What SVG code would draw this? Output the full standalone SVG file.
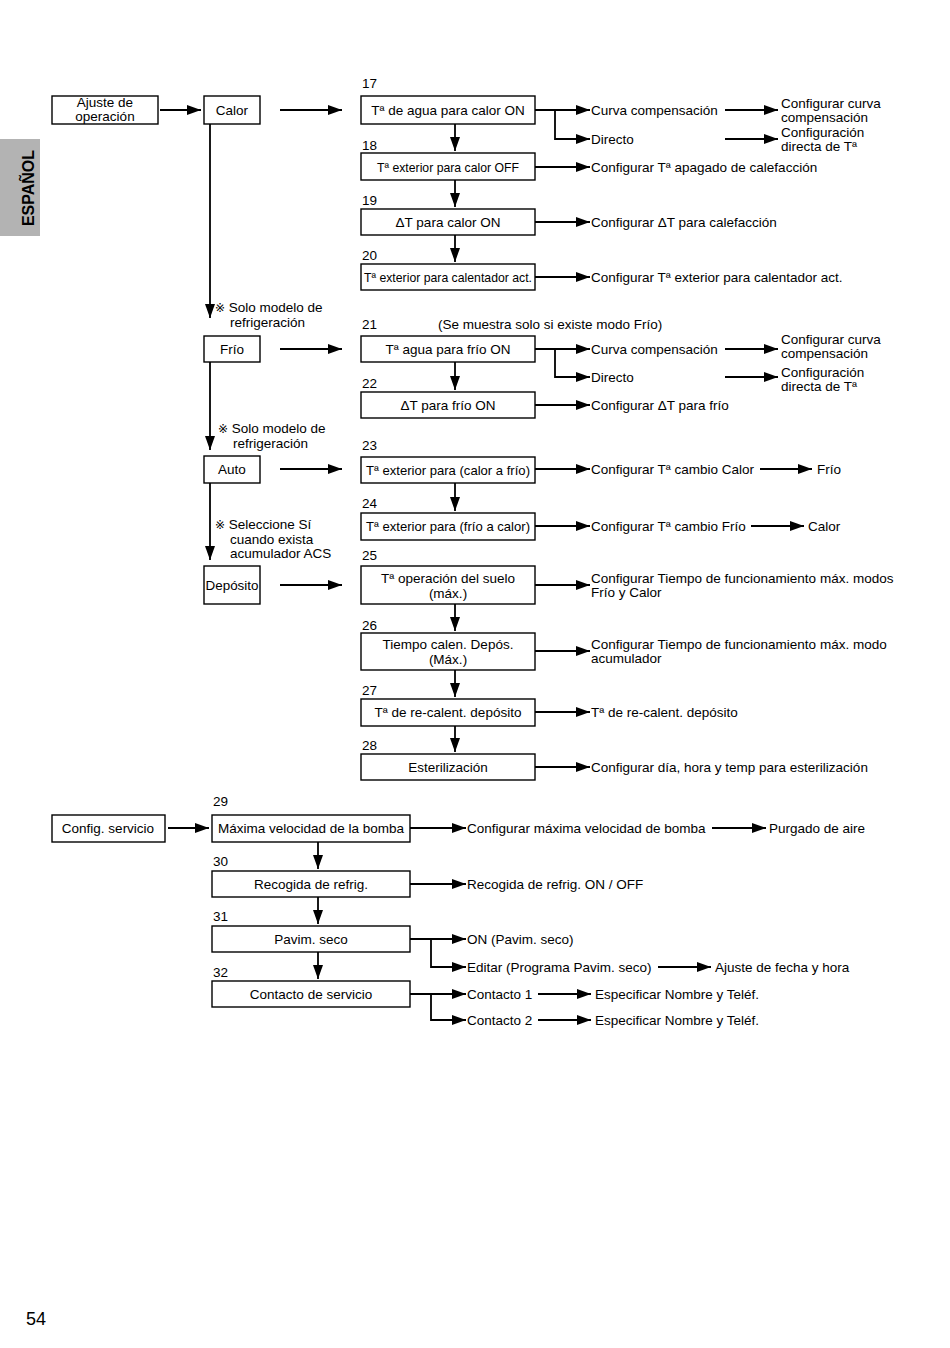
<svg xmlns="http://www.w3.org/2000/svg" width="950" height="1348" viewBox="0 0 950 1348">
<style>
text{font-family:"Liberation Sans",Arial,sans-serif;font-size:13.5px;fill:#000}
.c{text-anchor:middle}
.box{fill:#fff;stroke:#000;stroke-width:1.4}
.ln{fill:none;stroke:#000;stroke-width:1.8}
.sym{font-family:"DejaVu Sans",sans-serif;font-size:12px}
</style>
<defs>
<marker id="ah" markerUnits="userSpaceOnUse" markerWidth="16" markerHeight="12" refX="14" refY="5" orient="auto">
<path d="M0,0 L14,5 L0,10 z" fill="#000"/>
</marker>
</defs>
<rect width="950" height="1348" fill="#fff"/>
<g id="tab">
<rect x="0" y="139" width="40" height="97" fill="#b3b3b3"/>
<text x="34" y="188" class="c" transform="rotate(-90 34 188)" style="font-size:16px;font-weight:bold">ESPAÑOL</text>
</g>
<g id="connectors">
<line class="ln" x1="160" y1="110" x2="201" y2="110" marker-end="url(#ah)"/>
<line class="ln" x1="280" y1="110" x2="342" y2="110" marker-end="url(#ah)"/>
<line class="ln" x1="210" y1="124" x2="210" y2="318" marker-end="url(#ah)"/>
<line class="ln" x1="280" y1="349" x2="342" y2="349" marker-end="url(#ah)"/>
<line class="ln" x1="210" y1="362" x2="210" y2="450" marker-end="url(#ah)"/>
<line class="ln" x1="280" y1="469" x2="342" y2="469" marker-end="url(#ah)"/>
<line class="ln" x1="210" y1="483" x2="210" y2="560" marker-end="url(#ah)"/>
<line class="ln" x1="280" y1="585" x2="342" y2="585" marker-end="url(#ah)"/>
<line class="ln" x1="455" y1="124" x2="455" y2="151" marker-end="url(#ah)"/>
<line class="ln" x1="455" y1="180" x2="455" y2="207" marker-end="url(#ah)"/>
<line class="ln" x1="455" y1="235" x2="455" y2="262" marker-end="url(#ah)"/>
<line class="ln" x1="455" y1="362" x2="455" y2="390" marker-end="url(#ah)"/>
<line class="ln" x1="455" y1="483" x2="455" y2="511" marker-end="url(#ah)"/>
<line class="ln" x1="455" y1="604" x2="455" y2="631" marker-end="url(#ah)"/>
<line class="ln" x1="455" y1="670" x2="455" y2="697" marker-end="url(#ah)"/>
<line class="ln" x1="455" y1="726" x2="455" y2="752" marker-end="url(#ah)"/>
<line class="ln" x1="535" y1="110" x2="590" y2="110" marker-end="url(#ah)"/>
<polyline class="ln" points="555,110 555,139 590,139" marker-end="url(#ah)"/>
<line class="ln" x1="725" y1="110" x2="778" y2="110" marker-end="url(#ah)"/>
<line class="ln" x1="725" y1="139" x2="778" y2="139" marker-end="url(#ah)"/>
<line class="ln" x1="535" y1="167" x2="590" y2="167" marker-end="url(#ah)"/>
<line class="ln" x1="535" y1="222" x2="590" y2="222" marker-end="url(#ah)"/>
<line class="ln" x1="535" y1="277" x2="590" y2="277" marker-end="url(#ah)"/>
<line class="ln" x1="535" y1="349" x2="590" y2="349" marker-end="url(#ah)"/>
<polyline class="ln" points="555,349 555,377 590,377" marker-end="url(#ah)"/>
<line class="ln" x1="725" y1="349" x2="778" y2="349" marker-end="url(#ah)"/>
<line class="ln" x1="725" y1="377" x2="778" y2="377" marker-end="url(#ah)"/>
<line class="ln" x1="535" y1="405" x2="590" y2="405" marker-end="url(#ah)"/>
<line class="ln" x1="535" y1="469" x2="590" y2="469" marker-end="url(#ah)"/>
<line class="ln" x1="760" y1="469" x2="812" y2="469" marker-end="url(#ah)"/>
<line class="ln" x1="535" y1="526" x2="590" y2="526" marker-end="url(#ah)"/>
<line class="ln" x1="751" y1="526" x2="804" y2="526" marker-end="url(#ah)"/>
<line class="ln" x1="535" y1="585" x2="590" y2="585" marker-end="url(#ah)"/>
<line class="ln" x1="535" y1="651" x2="590" y2="651" marker-end="url(#ah)"/>
<line class="ln" x1="535" y1="712" x2="590" y2="712" marker-end="url(#ah)"/>
<line class="ln" x1="535" y1="767" x2="590" y2="767" marker-end="url(#ah)"/>
<line class="ln" x1="168" y1="828" x2="209" y2="828" marker-end="url(#ah)"/>
<line class="ln" x1="318" y1="842" x2="318" y2="869" marker-end="url(#ah)"/>
<line class="ln" x1="318" y1="897" x2="318" y2="924" marker-end="url(#ah)"/>
<line class="ln" x1="318" y1="952" x2="318" y2="979" marker-end="url(#ah)"/>
<line class="ln" x1="410" y1="828" x2="466" y2="828" marker-end="url(#ah)"/>
<line class="ln" x1="712" y1="828" x2="766" y2="828" marker-end="url(#ah)"/>
<line class="ln" x1="410" y1="884" x2="466" y2="884" marker-end="url(#ah)"/>
<line class="ln" x1="410" y1="939" x2="466" y2="939" marker-end="url(#ah)"/>
<polyline class="ln" points="431,939 431,967 466,967" marker-end="url(#ah)"/>
<line class="ln" x1="658" y1="967" x2="711" y2="967" marker-end="url(#ah)"/>
<line class="ln" x1="410" y1="994" x2="466" y2="994" marker-end="url(#ah)"/>
<polyline class="ln" points="431,994 431,1020 466,1020" marker-end="url(#ah)"/>
<line class="ln" x1="538" y1="994" x2="591" y2="994" marker-end="url(#ah)"/>
<line class="ln" x1="538" y1="1020" x2="591" y2="1020" marker-end="url(#ah)"/>
</g>
<g id="ajuste"><rect class="box" x="52" y="96" width="106" height="28"/><text x="105" y="107" class="c">Ajuste de</text><text x="105" y="121" class="c">operación</text></g>
<g id="calor"><rect class="box" x="204" y="96" width="56" height="28"/><text x="232" y="115" class="c">Calor</text></g>
<g id="frio"><rect class="box" x="204" y="336" width="56" height="26"/><text x="232" y="354" class="c">Frío</text></g>
<g id="auto"><rect class="box" x="204" y="456" width="56" height="27"/><text x="232" y="474" class="c">Auto</text></g>
<g id="deposito"><rect class="box" x="204" y="566" width="56" height="38"/><text x="232" y="590" class="c" textLength="53" lengthAdjust="spacingAndGlyphs">Depósito</text></g>
<g id="notes">
<text x="215" y="312"><tspan class="sym">※</tspan> Solo modelo de</text>
<text x="230" y="327">refrigeración</text>
<text x="218" y="433"><tspan class="sym">※</tspan> Solo modelo de</text>
<text x="233" y="448">refrigeración</text>
<text x="215" y="529"><tspan class="sym">※</tspan> Seleccione Sí</text>
<text x="230" y="544">cuando exista</text>
<text x="230" y="558">acumulador ACS</text>
</g>
<g id="n17"><text x="362" y="88">17</text><rect class="box" x="361" y="96" width="174" height="28"/><text x="448" y="115" class="c">Tª de agua para calor ON</text></g>
<g id="n18"><text x="362" y="150">18</text><rect class="box" x="361" y="153" width="174" height="27"/><text x="448" y="172" class="c" textLength="142" lengthAdjust="spacingAndGlyphs">Tª exterior para calor OFF</text></g>
<g id="n19"><text x="362" y="205">19</text><rect class="box" x="361" y="209" width="174" height="26"/><text x="448" y="227" class="c">ΔT para calor ON</text></g>
<g id="n20"><text x="362" y="260">20</text><rect class="box" x="361" y="264" width="174" height="26"/><text x="448" y="282" class="c" textLength="168" lengthAdjust="spacingAndGlyphs">Tª exterior para calentador act.</text></g>
<g id="n21"><text x="362" y="329">21</text><text x="438" y="329">(Se muestra solo si existe modo Frío)</text><rect class="box" x="361" y="336" width="174" height="26"/><text x="448" y="354" class="c">Tª agua para frío ON</text></g>
<g id="n22"><text x="362" y="388">22</text><rect class="box" x="361" y="392" width="174" height="26"/><text x="448" y="410" class="c">ΔT para frío ON</text></g>
<g id="n23"><text x="362" y="450">23</text><rect class="box" x="361" y="457" width="174" height="26"/><text x="448" y="475" class="c" textLength="164" lengthAdjust="spacingAndGlyphs">Tª exterior para (calor a frío)</text></g>
<g id="n24"><text x="362" y="508">24</text><rect class="box" x="361" y="513" width="174" height="27"/><text x="448" y="531" class="c" textLength="164" lengthAdjust="spacingAndGlyphs">Tª exterior para (frío a calor)</text></g>
<g id="n25"><text x="362" y="560">25</text><rect class="box" x="361" y="566" width="174" height="38"/><text x="448" y="583" class="c">Tª operación del suelo</text><text x="448" y="598" class="c">(máx.)</text></g>
<g id="n26"><text x="362" y="630">26</text><rect class="box" x="361" y="633" width="174" height="37"/><text x="448" y="649" class="c">Tiempo calen. Depós.</text><text x="448" y="664" class="c">(Máx.)</text></g>
<g id="n27"><text x="362" y="695">27</text><rect class="box" x="361" y="699" width="174" height="27"/><text x="448" y="717" class="c">Tª de re-calent. depósito</text></g>
<g id="n28"><text x="362" y="750">28</text><rect class="box" x="361" y="754" width="174" height="26"/><text x="448" y="772" class="c">Esterilización</text></g>
<g id="right-labels">
<text x="591" y="115">Curva compensación</text>
<text x="591" y="144">Directo</text>
<text x="781" y="108">Configurar curva</text>
<text x="781" y="122">compensación</text>
<text x="781" y="137">Configuración</text>
<text x="781" y="151">directa de Tª</text>
<text x="591" y="172">Configurar Tª apagado de calefacción</text>
<text x="591" y="227">Configurar ΔT para calefacción</text>
<text x="591" y="282">Configurar Tª exterior para calentador act.</text>
<text x="591" y="354">Curva compensación</text>
<text x="591" y="382">Directo</text>
<text x="781" y="344">Configurar curva</text>
<text x="781" y="358">compensación</text>
<text x="781" y="377">Configuración</text>
<text x="781" y="391">directa de Tª</text>
<text x="591" y="410">Configurar ΔT para frío</text>
<text x="591" y="474">Configurar Tª cambio Calor</text>
<text x="817" y="474">Frío</text>
<text x="591" y="531">Configurar Tª cambio Frío</text>
<text x="808" y="531">Calor</text>
<text x="591" y="583">Configurar Tiempo de funcionamiento máx. modos</text>
<text x="591" y="597">Frío y Calor</text>
<text x="591" y="649">Configurar Tiempo de funcionamiento máx. modo</text>
<text x="591" y="663">acumulador</text>
<text x="591" y="717">Tª de re-calent. depósito</text>
<text x="591" y="772">Configurar día, hora y temp para esterilización</text>
</g>
<g id="config-servicio"><rect class="box" x="52" y="815" width="113" height="27"/><text x="108" y="833" class="c">Config. servicio</text></g>
<g id="n29"><text x="213" y="806">29</text><rect class="box" x="212" y="815" width="198" height="27"/><text x="311" y="833" class="c">Máxima velocidad de la bomba</text></g>
<g id="n30"><text x="213" y="866">30</text><rect class="box" x="212" y="871" width="198" height="26"/><text x="311" y="889" class="c">Recogida de refrig.</text></g>
<g id="n31"><text x="213" y="921">31</text><rect class="box" x="212" y="926" width="198" height="26"/><text x="311" y="944" class="c">Pavim. seco</text></g>
<g id="n32"><text x="213" y="977">32</text><rect class="box" x="212" y="981" width="198" height="26"/><text x="311" y="999" class="c">Contacto de servicio</text></g>
<g id="service-labels">
<text x="467" y="833">Configurar máxima velocidad de bomba</text>
<text x="769" y="833">Purgado de aire</text>
<text x="467" y="889">Recogida de refrig. ON / OFF</text>
<text x="467" y="944">ON (Pavim. seco)</text>
<text x="467" y="972">Editar (Programa Pavim. seco)</text>
<text x="715" y="972">Ajuste de fecha y hora</text>
<text x="467" y="999">Contacto 1</text>
<text x="595" y="999">Especificar Nombre y Teléf.</text>
<text x="467" y="1025">Contacto 2</text>
<text x="595" y="1025">Especificar Nombre y Teléf.</text>
</g>
<text x="26" y="1325" style="font-size:18px">54</text>
</svg>
